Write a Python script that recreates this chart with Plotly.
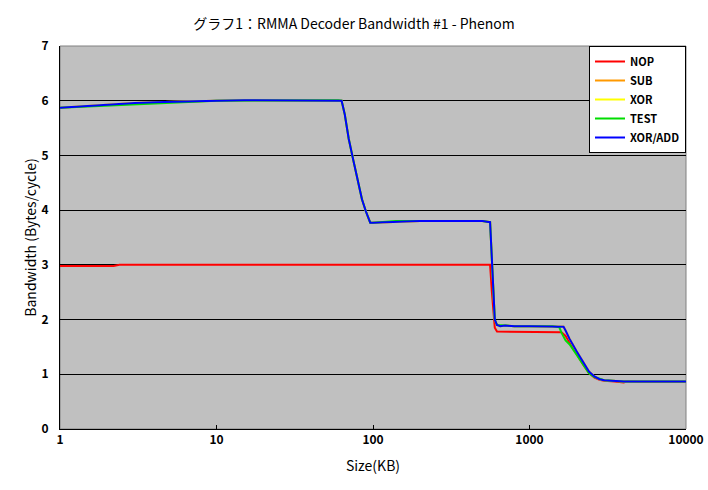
import plotly.graph_objects as go

# Blue (XOR/ADD)
x_xoradd = [1, 1.5, 2, 2.5, 3, 4, 5, 7, 10, 15, 20, 30, 40, 50, 60, 63, 66, 70, 75, 80, 85, 90, 96, 100,
            120, 140, 160, 200, 300, 400, 500, 560, 575, 590, 600, 620, 650, 700, 800, 1000, 1200, 1400,
            1600, 1650, 1700, 1800, 2000, 2200, 2400, 2600, 2800, 3000, 3500, 4000, 5000, 7000, 10000]
y_xoradd = [5.87, 5.9, 5.93, 5.95, 5.96, 5.97, 5.98, 5.99, 6.0, 6.01, 6.01, 6.01, 6.01, 6.01, 6.01, 6.0,
            5.75, 5.3, 4.9, 4.55, 4.2, 3.98, 3.77, 3.77, 3.78, 3.78, 3.79, 3.8, 3.8, 3.8, 3.8, 3.78,
            3.0, 2.4, 2.0, 1.9, 1.88, 1.89, 1.88, 1.88, 1.88, 1.88, 1.88, 1.87, 1.8, 1.65, 1.42, 1.22,
            1.05, 0.96, 0.91, 0.89, 0.88, 0.87, 0.87, 0.87, 0.87]

# Red (NOP)
x_nop = [1, 2.2, 2.4, 10, 100, 560, 575, 590, 600, 620, 800, 1000, 1200, 1500, 1600, 1700, 1800, 2000,
         2200, 2400, 2600, 2800, 3000, 3500, 4000, 4200, 5000, 7000, 10000]
y_nop = [2.98, 2.98, 3.0, 3.0, 3.0, 3.0, 2.5, 2.1, 1.85, 1.78, 1.78, 1.78, 1.78, 1.78, 1.77, 1.7, 1.58,
         1.38, 1.18, 1.02, 0.94, 0.9, 0.88, 0.87, 0.85, 0.87, 0.86, 0.86, 0.86]

# SUB / XOR / TEST (mostly hidden under XOR/ADD)
x_sub = x_xoradd
y_sub = y_xoradd
x_xor = x_xoradd
y_xor = y_xoradd
x_test = [1, 10, 60, 63, 66, 70, 75, 80, 85, 90, 96, 100, 140, 200, 500, 560, 575, 590, 600, 620, 800,
          1000, 1400, 1550, 1600, 1700, 1800, 2000, 2200, 2400, 2600, 3000, 4000, 10000]
y_test = [5.87, 6.0, 6.01, 6.0, 5.75, 5.3, 4.9, 4.55, 4.2, 3.98, 3.77, 3.77, 3.8, 3.8, 3.8, 3.78, 3.0,
          2.4, 2.0, 1.9, 1.88, 1.88, 1.88, 1.86, 1.76, 1.62, 1.55, 1.36, 1.17, 1.02, 0.95, 0.89, 0.87, 0.87]

x_tickvals = [1, 10, 100, 1000, 10000]
x_ticktext = ["1", "10", "100", "1000", "10000"]

series = [
    ("NOP", x_nop, y_nop, "#FF0000"),
    ("SUB", x_sub, y_sub, "#FF9900"),
    ("XOR", x_xor, y_xor, "#FFFF00"),
    ("TEST", x_test, y_test, "#00DD00"),
    ("XOR/ADD", x_xoradd, y_xoradd, "#0000FF"),
]

font_family = "Noto Sans CJK JP"

fig = go.Figure()
for name, xs, ys, col in series:
    fig.add_trace(go.Scatter(x=xs, y=ys, mode="lines", name=name,
                             line=dict(color=col, width=2)))

fig.update_layout(
    width=708, height=490,
    margin=dict(l=60, r=22, t=46, b=61, autoexpand=False),
    paper_bgcolor="white",
    plot_bgcolor="#C0C0C0",
    font=dict(family=font_family, size=13, color="black"),
    title=dict(text="グラフ1：RMMA Decoder Bandwidth #1 - Phenom", x=0.5, xanchor="center",
               y=0.951, yref="container", yanchor="middle", font=dict(size=14, family=font_family)),
    showlegend=True,
    legend=dict(x=1, xanchor="right", y=1, yanchor="top", bgcolor="white",
                bordercolor="black", borderwidth=1, tracegroupgap=0,
                font=dict(size=11, family=font_family, weight="bold"), itemwidth=30),
    xaxis=dict(type="log", range=[0, 4], tickvals=x_tickvals, ticktext=x_ticktext,
               showgrid=False, automargin=False,
               ticks="inside", ticklen=4, tickcolor="black", showline=True,
               linecolor="black", linewidth=1, zeroline=False,
               tickfont=dict(size=12, weight="bold"),
               title=dict(text="Size(KB)", standoff=14, font=dict(size=14))),
    yaxis=dict(range=[0, 7], dtick=1, showgrid=True, gridcolor="black", gridwidth=1,
               showline=True, linecolor="black", linewidth=1, zeroline=False, automargin=False,
               ticks="", ticklabelstandoff=8, tickfont=dict(size=12, weight="bold"),
               title=dict(text="Bandwidth (Bytes/cycle)", standoff=1, font=dict(size=14))),
)
fig.add_shape(type="rect", xref="paper", yref="paper", x0=0, x1=1, y0=0, y1=1,
              line=dict(color="#808080", width=1), layer="below")

fig.write_html("out.html", config={"displayModeBar": False},
               post_script="document.body.style.margin='0';document.body.style.overflow='hidden';")
